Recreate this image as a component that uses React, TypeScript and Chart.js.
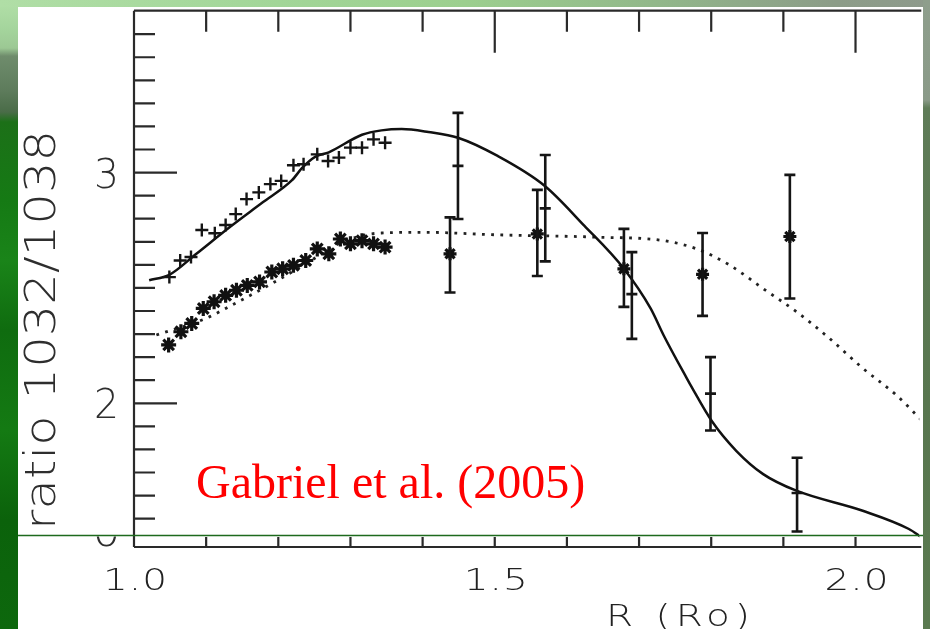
import React, { useEffect, useRef } from 'react';
import { Chart, registerables } from 'chart.js';
Chart.register(...registerables);

// ---- model curves ----
const solidModelR = [1.021, 1.049, 1.086, 1.132, 1.178, 1.219, 1.233, 1.251, 1.270, 1.316, 1.343, 1.371, 1.408, 1.449, 1.504, 1.569, 1.624, 1.679, 1.716, 1.734, 1.766, 1.771, 1.801, 1.835, 1.872, 1.918, 2.010, 2.074, 2.092];
const solidModelRatio = [2.533, 2.557, 2.647, 2.762, 2.870, 2.967, 3.020, 3.068, 3.088, 3.164, 3.183, 3.189, 3.176, 3.151, 3.072, 2.943, 2.770, 2.583, 2.411, 2.295, 2.109, 2.081, 1.922, 1.793, 1.693, 1.621, 1.534, 1.455, 1.418];
const dottedModelR = [1.031, 1.100, 1.127, 1.191, 1.242, 1.279, 1.316, 1.343, 1.403, 1.504, 1.642, 1.734, 1.780, 1.826, 1.872, 1.918, 1.964, 2.010, 2.056, 2.092];
const dottedModelRatio = [2.296, 2.368, 2.411, 2.519, 2.612, 2.684, 2.727, 2.738, 2.741, 2.730, 2.720, 2.705, 2.669, 2.598, 2.497, 2.397, 2.281, 2.152, 2.037, 1.925];

// ---- disk observations (no error bars) ----
const plusR = [1.049, 1.064, 1.079, 1.094, 1.112, 1.127, 1.141, 1.156, 1.173, 1.189, 1.204, 1.221, 1.235, 1.254, 1.269, 1.284, 1.300, 1.316, 1.332, 1.348];
const plusRatio = [2.547, 2.619, 2.634, 2.751, 2.737, 2.773, 2.820, 2.885, 2.914, 2.950, 2.964, 3.032, 3.036, 3.079, 3.050, 3.065, 3.108, 3.108, 3.144, 3.129];
const starR = [1.048, 1.065, 1.080, 1.096, 1.111, 1.127, 1.142, 1.157, 1.174, 1.191, 1.206, 1.221, 1.238, 1.254, 1.270, 1.286, 1.300, 1.316, 1.332, 1.348];
const starRatio = [2.253, 2.310, 2.346, 2.411, 2.440, 2.468, 2.490, 2.511, 2.526, 2.569, 2.583, 2.598, 2.619, 2.669, 2.648, 2.712, 2.691, 2.705, 2.691, 2.677];

// ---- off-limb observations with error bars ----
const plusErrR = [1.449, 1.570, 1.690, 1.799, 1.919];
const plusErrRatio = [3.029, 2.845, 2.473, 2.042, 1.611];
const plusErrLow = [2.799, 2.615, 2.279, 1.882, 1.444];
const plusErrHigh = [3.259, 3.076, 2.655, 2.200, 1.764];
const starErrR = [1.438, 1.559, 1.679, 1.788, 1.909];
const starErrRatio = [2.648, 2.734, 2.583, 2.559, 2.723];
const starErrLow = [2.480, 2.552, 2.418, 2.379, 2.454];
const starErrHigh = [2.806, 2.925, 2.756, 2.738, 2.990];

// ---- axes ----
const xMin = 1.0;
const xMax = 2.0884;
const yMin = 1.377;
const yMax = 3.7017;
const xTickValues = [1.1, 1.2, 1.3, 1.4, 1.5, 1.6, 1.7, 1.8, 1.9, 2.0];
const xMajorValues = [1.5, 2.0];
const xTickLabels = ['1.0', '1.5', '2.0'];
const xTickLabelValues = [1.0, 1.5, 2.0];
const yTickValues = [1.5, 1.6, 1.7, 1.8, 1.9, 2.0, 2.1, 2.2, 2.3, 2.4, 2.5, 2.6, 2.7, 2.8, 2.9, 3.0, 3.1, 3.2, 3.3, 3.4, 3.5, 3.6];
const yMajorValues = [2.0, 3.0];
const yTickLabels = ['2', '3'];
const yTickLabelValues = [2.0, 3.0];
const xTitle = 'R (Ro)';
const yTitle = 'ratio 1032/1038';
const annotation = 'Gabriel et al. (2005)';

const FONT = '"DejaVu Sans", "Liberation Sans", sans-serif';
const INK = '#2a2a2a';

const zip = (xs: number[], ys: number[]) => xs.map((x, i) => ({ x, y: ys[i] }));

function drawFit(ctx: CanvasRenderingContext2D, text: string, cx: number, baseline: number, size: number, target: number, color: string, maxScale = 1.3) {
  ctx.save();
  ctx.font = `200 ${size}px ${FONT}`;
  (ctx as any).letterSpacing = '0px';
  const w0 = ctx.measureText(text).width;
  const s = Math.min(target / w0, maxScale);
  let sp = 0;
  if (text.length > 1) sp = Math.max(0, (target / s - w0) / (text.length - 1));
  (ctx as any).letterSpacing = `${sp}px`;
  ctx.translate(cx + (sp * s) / 2, baseline);
  ctx.scale(s, 1);
  ctx.textAlign = 'center';
  ctx.textBaseline = 'alphabetic';
  ctx.fillStyle = color;
  ctx.fillText(text, 0, 0);
  ctx.restore();
}

const errorBarPlugin = {
  id: 'errorBars',
  afterDatasetsDraw(chart: any) {
    const ctx: CanvasRenderingContext2D = chart.ctx;
    const xs = chart.scales.x;
    const ys = chart.scales.y;
    chart.data.datasets.forEach((ds: any) => {
      if (!ds.errLow) return;
      ctx.save();
      ctx.strokeStyle = '#151515';
      ctx.lineWidth = 2.6;
      ds.data.forEach((p: any, j: number) => {
        const x = xs.getPixelForValue(p.x);
        const yl = ys.getPixelForValue(ds.errLow[j]);
        const yh = ys.getPixelForValue(ds.errHigh[j]);
        ctx.beginPath();
        ctx.moveTo(x, yl);
        ctx.lineTo(x, yh);
        ctx.moveTo(x - 5.5, yl);
        ctx.lineTo(x + 5.5, yl);
        ctx.moveTo(x - 5.5, yh);
        ctx.lineTo(x + 5.5, yh);
        ctx.stroke();
      });
      ctx.restore();
    });
  },
};

const framePlugin = {
  id: 'frame',
  afterDraw(chart: any) {
    const ctx: CanvasRenderingContext2D = chart.ctx;
    const xs = chart.scales.x;
    const ys = chart.scales.y;
    const a = chart.chartArea;
    ctx.save();
    ctx.strokeStyle = INK;
    ctx.lineWidth = 2.2;
    ctx.lineCap = 'butt';
    // frame lines
    ctx.beginPath();
    ctx.moveTo(a.left, a.top);
    ctx.lineTo(a.left, a.bottom);
    ctx.moveTo(a.left, a.top);
    ctx.lineTo(a.right + 2, a.top);
    ctx.moveTo(a.left, a.bottom);
    ctx.lineTo(a.right + 2, a.bottom);
    ctx.stroke();
    // y ticks (inward)
    ctx.beginPath();
    yTickValues.forEach((v) => {
      const y = ys.getPixelForValue(v);
      const len = yMajorValues.some((m) => Math.abs(m - v) < 1e-6) ? 43 : 21;
      ctx.moveTo(a.left, y);
      ctx.lineTo(a.left + len, y);
    });
    // top ticks
    xTickValues.forEach((v) => {
      const x = xs.getPixelForValue(v);
      const len = xMajorValues.some((m) => Math.abs(m - v) < 1e-6) ? 42 : 21;
      ctx.moveTo(x, a.top);
      ctx.lineTo(x, a.top + len);
    });
    // bottom ticks (only the stubs below the pasted strip)
    xTickValues.forEach((v) => {
      const x = xs.getPixelForValue(v);
      ctx.moveTo(x, a.bottom);
      ctx.lineTo(x, a.bottom - 10);
    });
    ctx.stroke();
    ctx.restore();

    // tick labels
    yTickLabels.forEach((t, i) => {
      const y = ys.getPixelForValue(yTickLabelValues[i]);
      drawFit(ctx, t, 106.5, y + 15, 41, 25, '#2e2e2e');
    });
    xTickLabels.forEach((t, i) => {
      const x = xs.getPixelForValue(xTickLabelValues[i]);
      drawFit(ctx, t, x + 1, a.bottom + 43, 30, 64, '#222', 1.3);
    });
    // partially hidden label at the seam
    ctx.save();
    ctx.beginPath();
    ctx.rect(60, 536.5, 70, 12);
    ctx.clip();
    drawFit(ctx, '0', 106.5, 546, 41, 28, '#2e2e2e');
    ctx.restore();

    // axis titles
    drawFit(ctx, xTitle, 678, 626, 30, 144, '#222', 1.3);
    ctx.save();
    ctx.translate(55, 330);
    ctx.rotate(-Math.PI / 2);
    drawFit(ctx, yTitle, 0, 0, 43, 400, '#2e2e2e', 1.15);
    ctx.restore();

    // annotation
    ctx.save();
    ctx.font = '48px "Liberation Serif", "Times New Roman", serif';
    ctx.fillStyle = '#ff0000';
    ctx.textAlign = 'left';
    ctx.textBaseline = 'alphabetic';
    ctx.fillText(annotation, 196, 498);
    ctx.restore();

    // seam line of the pasted figure
    ctx.save();
    ctx.strokeStyle = '#1d6a1d';
    ctx.lineWidth = 1.5;
    ctx.beginPath();
    ctx.moveTo(18, 535.5);
    ctx.lineTo(923, 535.5);
    ctx.stroke();
    ctx.restore();
  },
};

function RatioChart() {
  const ref = useRef<HTMLCanvasElement | null>(null);
  useEffect(() => {
    if (!ref.current) return;
    const chart = new Chart(ref.current, {
      type: 'scatter',
      data: {
        datasets: [
          {
            label: 'plus error',
            data: zip(plusErrR, plusErrRatio),
            errLow: plusErrLow,
            errHigh: plusErrHigh,
            pointStyle: 'line',
            pointRadius: 5.5,
            borderWidth: 2.6,
            borderColor: '#151515',
            backgroundColor: '#151515',
          } as any,
          {
            label: 'star error',
            data: zip(starErrR, starErrRatio),
            errLow: starErrLow,
            errHigh: starErrHigh,
            pointStyle: 'star',
            pointRadius: 6.5,
            borderWidth: 3.2,
            borderColor: '#111',
            backgroundColor: '#111',
          } as any,
          {
            label: 'plus',
            data: zip(plusR, plusRatio),
            pointStyle: 'cross',
            pointRadius: 6.5,
            borderWidth: 2.4,
            borderColor: '#151515',
            backgroundColor: '#151515',
          },
          {
            label: 'star',
            data: zip(starR, starRatio),
            pointStyle: 'star',
            pointRadius: 7.5,
            borderWidth: 3.2,
            borderColor: '#111',
            backgroundColor: '#111',
          },
          {
            label: 'solid model',
            data: zip(solidModelR, solidModelRatio),
            showLine: true,
            pointRadius: 0,
            borderColor: '#111',
            borderWidth: 2.5,
            cubicInterpolationMode: 'monotone',
          },
          {
            label: 'dotted model',
            data: zip(dottedModelR, dottedModelRatio),
            showLine: true,
            pointRadius: 0,
            borderColor: '#222',
            borderWidth: 2.8,
            borderDash: [2.8, 6.4],
            cubicInterpolationMode: 'monotone',
          },
        ],
      },
      options: {
        animation: false,
        responsive: false,
        devicePixelRatio: 1,
        layout: { padding: { left: 134, top: 7, right: 8, bottom: 82 } },
        scales: {
          x: { type: 'linear', min: xMin, max: xMax, display: false },
          y: { type: 'linear', min: yMin, max: yMax, display: false },
        },
        plugins: { legend: { display: false }, tooltip: { enabled: false } },
        events: [],
      },
      plugins: [errorBarPlugin, framePlugin],
    });
    return () => chart.destroy();
  }, []);
  return <canvas ref={ref} width={930} height={629} style={{ position: 'absolute', left: 0, top: 0, width: 930, height: 629 }} />;
}

export default function App() {
  return (
    <div style={{ position: 'fixed', left: 0, top: 0, width: 930, height: 629, overflow: 'hidden', background: '#ffffff' }}>
      <div
        style={{
          position: 'absolute', left: 0, top: 0, width: 18, height: 629,
          background: 'linear-gradient(to bottom, #b2e0a8 0px, #a4d49c 30px, #9cc894 48px, #6f8c6c 56px, #5e7c5c 90px, #4a6c48 112px, #1c7018 122px, #157a14 200px, #1a8419 260px, #0f6c0f 330px, #147a13 430px, #0b620b 520px, #0d680d 629px)',
        }}
      />
      <div
        style={{
          position: 'absolute', left: 0, top: 0, width: 930, height: 7,
          background: 'linear-gradient(to right, #b0dea6 0%, #a2d698 30%, #9ccf8e 50%, #92b88a 70%, #8c9c88 90%, #8e9a8c 100%)',
        }}
      />
      <div
        style={{
          position: 'absolute', left: 923, top: 0, width: 7, height: 629,
          background: 'linear-gradient(to bottom, #8e9e8c 0px, #8a9a88 100px, #5f7c58 108px, #58764f 400px, #5a7a50 629px)',
        }}
      />
      <RatioChart />
    </div>
  );
}
